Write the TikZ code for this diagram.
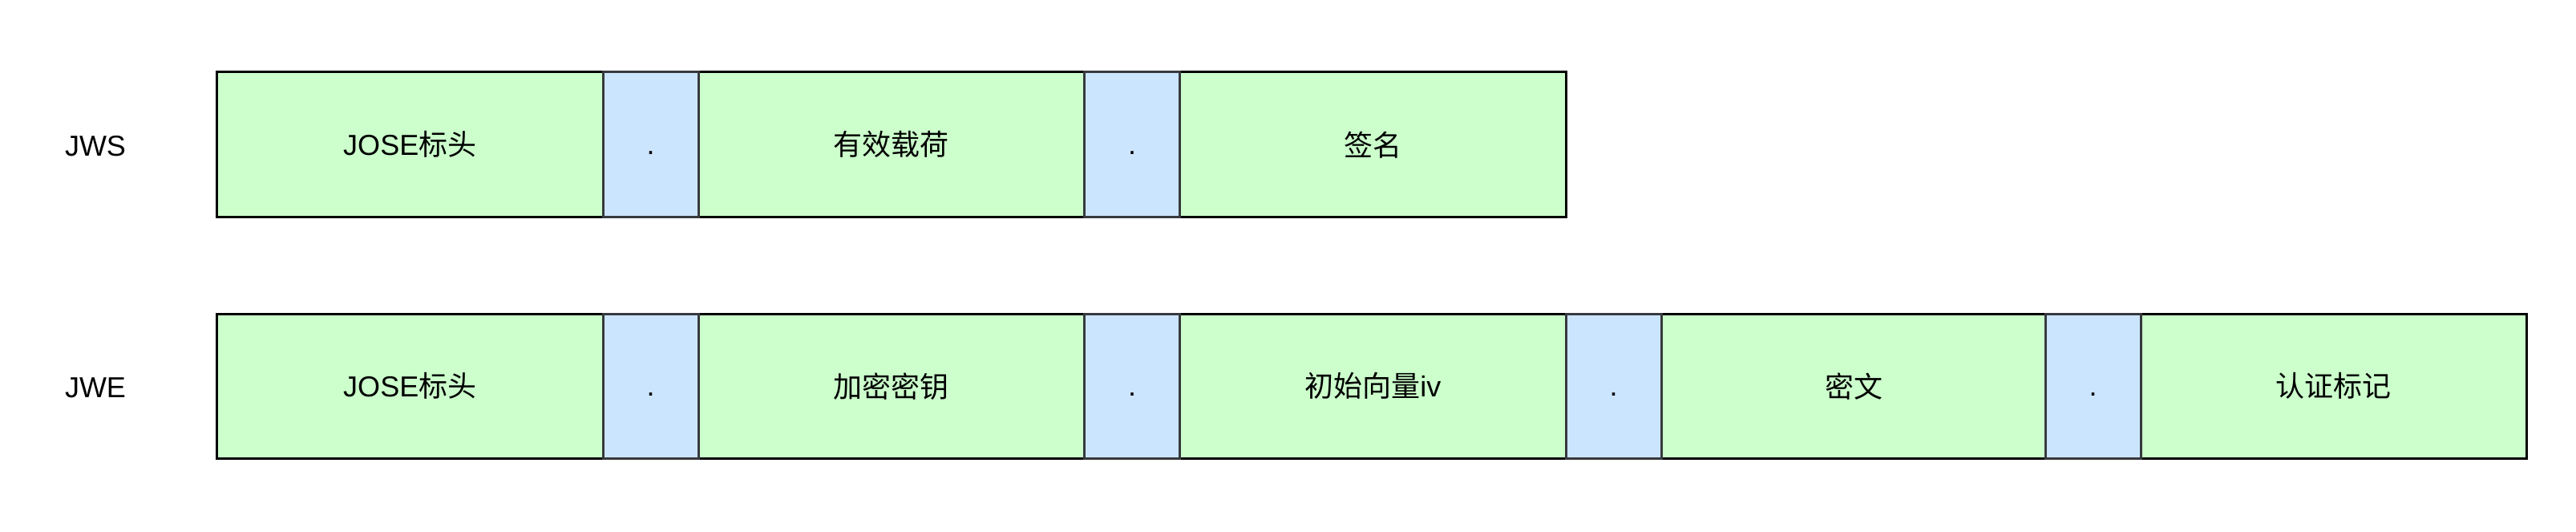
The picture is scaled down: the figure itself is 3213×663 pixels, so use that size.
\documentclass[tikz,border=0pt]{standalone}
\usepackage{fontspec}
\setmainfont{Liberation Sans}
\newfontfamily\cjk{Noto Sans CJK SC}
\definecolor{gfill}{HTML}{CCFFCC}
\definecolor{bfill}{HTML}{CCE5FF}
\definecolor{bline}{HTML}{36393D}
\newcommand{\sepdot}{\vphantom{J}.}
\begin{document}
\begin{tikzpicture}[x=1pt,y=-1pt,
  every node/.style={font=\fontsize{36}{40}\selectfont},
  part/.style={draw=black,fill=gfill,line width=3pt,minimum width=481.5pt,minimum height=180.5pt,anchor=north west,inner sep=0pt,outer sep=0pt},
  dot/.style={draw=bline,fill=bfill,line width=3pt,minimum width=119pt,minimum height=180.5pt,anchor=north west,inner sep=0pt,outer sep=0pt},
  rowlabel/.style={anchor=center,inner sep=0pt}]
\useasboundingbox (0,0) rectangle (3213,663);
% JWS row
\node[rowlabel] (jwsl) at (119,182) {JWS};
\node[part] (s1) at (270.5,90) {JOSE{\cjk 标头}};
\node[part] (s3) at (871,90) {\cjk 有效载荷};
\node[part] (s5) at (1471.5,90) {\cjk 签名};
\node[dot] (s2) at (752,90) {\sepdot};
\node[dot] (s4) at (1352.5,90) {\sepdot};
% JWE row
\node[rowlabel] (jwel) at (119,483) {JWE};
\node[part] (e1) at (270.5,391) {JOSE{\cjk 标头}};
\node[part] (e3) at (871,391) {\cjk 加密密钥};
\node[part] (e5) at (1471.5,391) {{\cjk 初始向量}iv};
\node[part] (e7) at (2072,391) {\cjk 密文};
\node[part] (e9) at (2670,391) {\cjk 认证标记};
\node[dot] (e2) at (752,391) {\sepdot};
\node[dot] (e4) at (1352.5,391) {\sepdot};
\node[dot] (e6) at (1953,391) {\sepdot};
\node[dot] (e8) at (2551,391) {\sepdot};
\end{tikzpicture}
\end{document}
